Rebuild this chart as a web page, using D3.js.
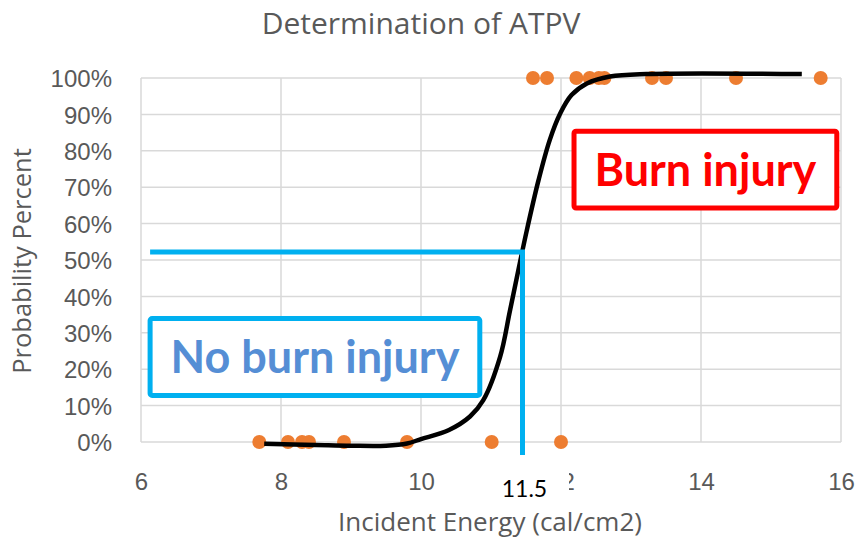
<!DOCTYPE html>
<html lang="en">
<head>
<meta charset="UTF-8">
<title>Determination of ATPV</title>
<script src="https://d3js.org/d3.v7.min.js"></script>
<style>
  body { margin: 0; background: #fff; }
  svg { display: block; font-family: Lato, "Open Sans", sans-serif; font-variant-ligatures: none; }
  .grid line { stroke: #d9d9d9; stroke-width: 1.5px; }
  .tick-label { fill: #595959; font-size: 24px; }
  .title { fill: #595959; font-family: "Open Sans", sans-serif; }
</style>
</head>
<body>
<div id="chart"></div>
<script>
// test results: incident energy (cal/cm2) where no burn / burn occurred
const noBurnEnergy = [7.69, 8.10, 8.30, 8.40, 8.90, 9.80, 11.01, 12.0];
const burnEnergy = [11.6, 11.8, 12.22, 12.41, 12.54, 12.62, 13.3, 13.5, 14.5, 15.71];

// smoothed logistic fit
const fitEnergy = [7.76, 8.5, 9.0, 9.5, 9.8, 10.0, 10.4, 10.7, 10.89, 11.13, 11.27, 11.41, 11.51, 11.68, 11.84, 11.99, 12.15, 12.37, 12.7, 13.22, 15.44];
const fitProb = [-0.005, -0.008, -0.010, -0.010, -0.004, 0.008, 0.033, 0.07, 0.115, 0.234, 0.36, 0.49, 0.58, 0.72, 0.83, 0.903, 0.953, 0.985, 1.004, 1.011, 1.011];

const xTicks = [6, 8, 10, 12, 14, 16];
const yTicks = [0, 0.1, 0.2, 0.3, 0.4, 0.5, 0.6, 0.7, 0.8, 0.9, 1.0];

// ATPV marker
const atpv = 11.45, atpvLabel = "11.5", atpvLevel = 0.522, guideStart = 6.13;

const width = 860, height = 539;
const margin = { top: 78, right: 19, bottom: 97, left: 141 };

const svg = d3.select("#chart").append("svg")
  .attr("width", width).attr("height", height);

const x = d3.scaleLinear().domain([6, 16]).range([margin.left, width - margin.right]);
const y = d3.scaleLinear().domain([0, 1]).range([height - margin.bottom, margin.top]);

// gridlines
const grid = svg.append("g").attr("class", "grid");
grid.selectAll(".h").data(yTicks).join("line")
  .attr("x1", x(6)).attr("x2", x(16))
  .attr("y1", d => y(d)).attr("y2", d => y(d));
grid.selectAll(".v").data(xTicks).join("line")
  .attr("x1", d => x(d)).attr("x2", d => x(d))
  .attr("y1", y(0)).attr("y2", y(1));

// axes (labels only, Excel style)
const xAxis = svg.append("g")
  .attr("transform", `translate(0,${y(0)})`)
  .call(d3.axisBottom(x).tickValues(xTicks).tickSize(0).tickPadding(31).tickFormat(d3.format("d")));
xAxis.select(".domain").remove();
xAxis.selectAll("text").attr("class", "tick-label").attr("font-size", null).attr("font-family", null);

const yAxis = svg.append("g")
  .attr("transform", `translate(${x(6)},0)`)
  .call(d3.axisLeft(y).tickValues(yTicks).tickSize(0).tickPadding(29).tickFormat(d3.format(".0%")));
yAxis.select(".domain").remove();
yAxis.selectAll("text").attr("class", "tick-label").attr("font-size", null).attr("font-family", null).attr("dy", "0.36em");

// data points
svg.append("g").selectAll("circle")
  .data(noBurnEnergy.map(e => [e, 0]).concat(burnEnergy.map(e => [e, 1])))
  .join("circle")
  .attr("cx", d => x(d[0])).attr("cy", d => y(d[1])).attr("r", 7)
  .attr("fill", "#ed7d31");

// fitted curve
const line = d3.line().x(d => x(d[0])).y(d => y(d[1])).curve(d3.curveCatmullRom.alpha(0.5));
svg.append("path")
  .datum(fitEnergy.map((e, i) => [e, fitProb[i]]))
  .attr("d", line)
  .attr("fill", "none").attr("stroke", "#000").attr("stroke-width", 4.5);

// title and axis titles
svg.append("text").attr("class", "title").attr("x", 421).attr("y", 34).attr("text-anchor", "middle")
  .attr("font-size", 30).text("Determination of ATPV");
svg.append("text").attr("class", "title").attr("x", 490).attr("y", 531).attr("text-anchor", "middle")
  .attr("font-size", 26).text("Incident Energy (cal/cm2)");
svg.append("text").attr("class", "title").attr("transform", "translate(31,261) rotate(-90)").attr("text-anchor", "middle")
  .attr("font-size", 25.5).text("Probability Percent");

// ATPV guide lines
const blue = "#00b0f0";
svg.append("line").attr("x1", x(guideStart)).attr("x2", x(atpv) + 2.5)
  .attr("y1", y(atpvLevel)).attr("y2", y(atpvLevel))
  .attr("stroke", blue).attr("stroke-width", 5);
svg.append("line").attr("x1", x(atpv)).attr("x2", x(atpv))
  .attr("y1", y(atpvLevel)).attr("y2", y(0) + 13)
  .attr("stroke", blue).attr("stroke-width", 5);

// ATPV value label with white backing over the "12" tick
svg.append("rect").attr("x", 490).attr("y", 469).attr("width", 79).attr("height", 34).attr("fill", "#fff");
svg.append("text").attr("x", x(atpv) + 2).attr("y", 497).attr("text-anchor", "middle")
  .attr("font-size", 23).attr("fill", "#000").text(atpvLabel);

// region annotations
function labelBox(x0, x1, p0, p1, color, textColor, label) {
  svg.append("rect")
    .attr("x", x(x0)).attr("y", y(p0))
    .attr("width", x(x1) - x(x0)).attr("height", y(p1) - y(p0))
    .attr("rx", 2)
    .attr("fill", "#fff").attr("stroke", color).attr("stroke-width", 5);
  svg.append("text")
    .attr("x", (x(x0) + x(x1)) / 2).attr("y", (y(p0) + y(p1)) / 2)
    .attr("dy", "0.36em").attr("text-anchor", "middle")
    .attr("font-size", 45).attr("font-weight", "bold").attr("fill", textColor)
    .text(label);
}
labelBox(6.13, 10.84, 0.339, 0.128, blue, "#558ed5", "No burn injury");
labelBox(12.186, 15.94, 0.854, 0.643, "#ff0000", "#ff0000", "Burn injury");
</script>
</body>
</html>
